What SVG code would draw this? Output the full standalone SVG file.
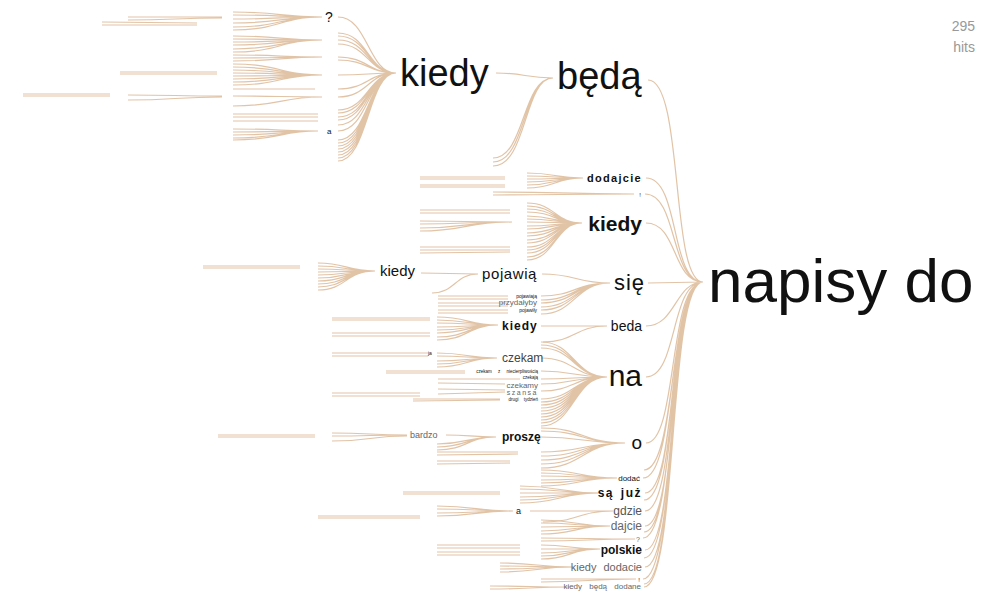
<svg xmlns="http://www.w3.org/2000/svg" width="995" height="592" viewBox="0 0 995 592">
<style>
.c{fill:none;stroke:#dcb896;stroke-width:1.2;stroke-opacity:0.85}
text{font-family:"Liberation Sans",Arial,sans-serif;fill:#111}
.g{fill:#666}
.b{font-weight:bold}
.e{text-anchor:end}
</style>
<rect width="995" height="592" fill="#fff"/>
<g id="connectors">
<path class="c" d="M648,80 C684,80 670,282 703,282 M646,178 C680,178 670,282 703,282 M645,194 C678,194 670,282 703,282 M646,223 C678,223 672,282 703,282 M648,283 L703,282 M646,326 C676,326 675,282 703,282 M646,377 C678,377 670,282 703,282 M646,443 C678,443 668,282 703,282 M643,478 C677,478 668,282 703,282 M645,493 C678,493 668,282 703,282 M645,511 C678,511 668,282 703,282 M645,526 C678,526 668,282 703,282 M643,538 C677,538 668,282 703,282 M645,550 C678,550 668,282 703,282 M645,567 C678,567 668,282 703,282 M643,579 C677,579 668,282 703,282 M644,587 C678,587 668,282 703,282 M644,470 C677,470 669,282 703,282 M644,500 C678,500 667,282 703,282 M644,532 C678,532 667,282 703,282 M644,558 C678,558 667,282 703,282 M644,584 C678,584 667,282 703,282"/>
<path class="c" d="M496,73 C525,73 525,78 553,78 M493,158 C525,158 522,78 553,78 M493,162 C526,162 523,78 553,78 M493,166 C527,166 524,78 553,78"/>
<path class="c" d="M338,17 C368,17 368,73 396,73 M338,33 C368,33 368,73 396,73 M338,36 C368,36 368,73 396,73 M338,40 C368,40 368,73 396,73 M338,44 C368,44 368,73 396,73 M338,57 C368,57 368,73 396,73 M338,60 C368,60 368,73 396,73 M338,75 C368,75 368,73 396,73 M338,89 C368,89 368,73 396,73 M338,97 C368,97 368,73 396,73 M338,110 C368,110 368,73 396,73 M338,113 C368,113 368,73 396,73 M338,117 C368,117 368,73 396,73 M338,120 C368,120 368,73 396,73 M338,125 C368,125 368,73 396,73 M338,131 C368,131 368,73 396,73 M338,140 C368,140 368,73 396,73 M338,143 C368,143 368,73 396,73 M338,146 C368,146 368,73 396,73 M338,149 C368,149 368,73 396,73 M338,152 C368,152 368,73 396,73 M338,155 C368,155 368,73 396,73 M338,158 C368,158 368,73 396,73 M338,161 C368,161 368,73 396,73"/>
<path class="c" d="M233,12 C280,12 280,17 322,17 M233,15 C280,15 280,17 322,17 M233,19 C280,19 280,17 322,17 M233,23 C280,23 280,17 322,17 M233,27 C280,27 280,17 322,17 M233,30 C280,30 280,17 322,17 M233,36 C280,36 280,40 322,40 M233,39 C280,39 280,40 322,40 M233,42 C280,42 280,40 322,40 M233,45 C280,45 280,40 322,40 M233,49 C280,49 280,40 322,40 M233,52 C280,52 280,40 322,40 M233,55 C280,55 280,57 322,57 M233,58 C280,58 280,57 322,57 M233,61 C280,61 280,57 322,57 M233,64 C280,64 280,75 322,75 M233,67 C280,67 280,75 322,75 M233,70 C280,70 280,75 322,75 M233,73 C280,73 280,75 322,75 M233,76 C280,76 280,75 322,75 M233,79 C280,79 280,75 322,75 M233,82 C280,82 280,75 322,75 M233,85 C280,85 280,75 322,75 M233,89 L315,89 M233,96 C280,96 280,97 322,97 M233,106 C280,106 280,97 322,97 M233,114 L318,114 M233,117 L318,117 M233,121 L318,121 M233,129 C280,129 280,131 318,131 M233,132 C280,132 280,131 318,131 M233,135 C280,135 280,131 318,131 M233,138 C280,138 280,131 318,131 M233,140 C280,140 280,131 318,131"/>
<path class="c" d="M128,17 C175,17 175,17 222,17 M128,20 C175,20 175,18 222,18 M102,22 L197,23 M102,25 L197,25 M120,72 L217,72 M120,74 L217,74 M23,94 L110,94 M23,96 L110,96 M128,95 C175,95 175,96 222,96 M128,100 C175,100 175,97 222,97"/>
<path class="c" d="M527,173 C555,173 555,178 583,178 M527,176 C555,176 555,178 583,178 M527,179 C555,179 555,178 583,178 M527,182 C555,182 555,178 583,178 M527,185 C555,185 555,178 583,178 M527,188 C555,188 555,178 583,178 M420,177 L505,177 M420,179 L505,179 M420,185 L505,185 M420,187 L505,187 M493,192 C560,192 560,194 634,194 M493,195 C560,195 560,194 634,194"/>
<path class="c" d="M527,203 C555,203 555,223 582,223 M527,206 C555,206 555,223 582,223 M527,209 C555,209 555,223 582,223 M527,212 C555,212 555,223 582,223 M527,216 C555,216 555,223 582,223 M527,219 C555,219 555,223 582,223 M527,222 C555,222 555,223 582,223 M527,226 C555,226 555,223 582,223 M527,229 C555,229 555,223 582,223 M527,233 C555,233 555,223 582,223 M527,236 C555,236 555,223 582,223 M527,240 C555,240 555,223 582,223 M527,243 C555,243 555,223 582,223 M527,247 C555,247 555,223 582,223 M527,250 C555,250 555,223 582,223 M527,253 C555,253 555,223 582,223 M527,257 C555,257 555,223 582,223 M527,260 C555,260 555,223 582,223 M420,210 L510,210 M420,213 L510,213 M420,221 C465,221 465,222 512,222 M420,224 C465,224 465,222 512,222 M420,228 C465,228 465,222 512,222 M420,231 C465,231 465,222 512,222 M420,247 L510,247 M420,250 L510,250 M420,253 L510,252"/>
<path class="c" d="M318,263 C346,263 346,271 375,271 M318,266 C346,266 346,271 375,271 M318,269 C346,269 346,271 375,271 M318,272 C346,272 346,271 375,271 M318,275 C346,275 346,271 375,271 M318,278 C346,278 346,271 375,271 M318,281 C346,281 346,271 375,271 M318,284 C346,284 346,271 375,271 M318,287 C346,287 346,271 375,271 M318,290 C346,290 346,271 375,271 M203,266 L300,266 M203,268 L300,268"/>
<path class="c" d="M421,273 L478,274 M432,293 C455,293 455,274 478,274 M542,274 C576,274 576,283 610,283 M541,296 C575,296 575,283 610,283 M541,300 C575,300 575,283 610,283 M541,303 C575,303 575,283 610,283 M541,307 C575,307 575,283 610,283 M541,310 C575,310 575,283 610,283 M541,314 C575,314 575,283 610,283 M438,296 L508,296 M438,299 L508,299 M438,303 L508,303 M438,306 L508,306 M438,310 L508,310 M438,313 L508,313"/>
<path class="c" d="M541,326 L607,326 M543,342 C575,342 575,326 607,326 M437,317 C468,317 468,325 498,325 M437,320 C468,320 468,325 498,325 M437,323 C468,323 468,325 498,325 M437,327 C468,327 468,325 498,325 M437,330 C468,330 468,325 498,325 M437,333 C468,333 468,325 498,325 M437,337 C468,337 468,325 498,325 M437,340 C468,340 468,325 498,325 M332,318 L430,318 M332,320 L430,320 M332,333 L430,333 M332,336 L430,336"/>
<path class="c" d="M541,342 C574,342 574,377 607,377 M541,345 C574,345 574,377 607,377 M541,348 C574,348 574,377 607,377 M541,358 C574,358 574,377 607,377 M541,371 C574,371 574,377 607,377 M541,379 C574,379 574,377 607,377 M541,384 C574,384 574,377 607,377 M541,391 C574,391 574,377 607,377 M541,399 C574,399 574,377 607,377 M541,402 C574,402 574,377 607,377 M541,405 C574,405 574,377 607,377 M541,408 C574,408 574,377 607,377 M541,411 C574,411 574,377 607,377 M541,414 C574,414 574,377 607,377 M541,417 C574,417 574,377 607,377 M541,420 C574,420 574,377 607,377 M541,423 C574,423 574,377 607,377 M541,426 C574,426 574,377 607,377"/>
<path class="c" d="M437,353 C467,353 467,358 497,358 M437,356 C467,356 467,358 497,358 M437,361 C467,361 467,358 497,358 M437,364 C467,364 467,358 497,358 M437,367 C467,367 467,358 497,358 M332,353 L428,353 M332,356 L428,356 M386,371 L465,371 M386,373 L465,373 M438,379 L520,379 M438,383 L505,384 M438,389 L505,390 M438,394 L505,392 M332,393 L420,393 M332,396 L420,396 M413,399 L500,399 M413,401 L500,400"/>
<path class="c" d="M541,437 C583,437 583,443 625,443 M541,428 C583,428 583,443 625,443 M541,431 C583,431 583,443 625,443 M541,452 C583,452 583,443 625,443 M541,456 C583,456 583,443 625,443 M541,460 C583,460 583,443 625,443 M541,464 C583,464 583,443 625,443 M541,468 C583,468 583,443 625,443 M446,435 C470,435 470,437 496,437 M437,444 C467,444 467,437 496,437 M437,447 C467,447 467,437 496,437 M437,450 C467,450 467,437 496,437 M332,433 C370,433 370,435 407,435 M332,436 C370,436 370,435 407,435 M332,441 C370,441 370,436 407,436 M218,435 L315,435 M218,437 L315,437 M437,452 L518,452 M437,455 L518,454 M437,461 L510,461 M437,464 L510,463"/>
<path class="c" d="M541,470 C579,470 579,478 617,478 M541,473 C579,473 579,478 617,478 M541,476 C579,476 579,478 617,478 M541,480 C579,480 579,478 617,478 M541,483 C579,483 579,478 617,478 M541,486 C579,486 579,478 617,478 M520,486 C560,486 560,493 600,493 M520,489 C560,489 560,493 600,493 M520,493 C560,493 560,493 600,493 M520,497 C560,497 560,493 600,493 M520,500 C560,500 560,493 600,493 M520,503 C560,503 560,493 600,493 M403,492 L500,492 M403,494 L500,494"/>
<path class="c" d="M530,511 L613,511 M543,522 C578,522 578,511 613,511 M437,506 C476,506 476,511 513,511 M437,509 C476,509 476,511 513,511 M437,513 C476,513 476,511 513,511 M437,516 C476,516 476,511 513,511 M318,516 L420,516 M318,518 L420,518"/>
<path class="c" d="M541,520 C575,520 575,526 610,526 M541,523 C575,523 575,526 610,526 M541,527 C575,527 575,526 610,526 M541,531 C575,531 575,526 610,526 M541,534 C575,534 575,526 610,526 M541,538 C588,538 588,539 635,539 M541,541 C588,541 588,539 635,539 M541,545 C570,545 570,549 600,549 M541,549 C570,549 570,549 600,549 M541,553 C570,553 570,549 600,549 M541,556 C570,556 570,549 600,549 M541,559 C570,559 570,549 600,549 M437,545 L520,545 M437,548 L520,548 M437,552 L520,552 M437,555 L520,555 M500,563 C537,563 537,567 574,567 M500,566 C537,566 537,567 574,567 M500,569 C537,569 537,567 574,567 M500,572 C537,572 537,567 574,567 M541,579 C588,579 588,579 636,579 M541,582 C588,582 588,579 636,579 M490,586 C530,586 530,587 570,587 M490,589 C530,589 530,587 570,587"/>
</g>
<g id="hits"><text x="975" y="31" class="e" style="fill:#999;font-size:14px">295</text><text x="975" y="52" class="e" style="fill:#999;font-size:14px">hits</text></g>
<g id="root"><text x="708" y="302" style="font-size:62px">napisy do</text></g>
<g id="n-beda-top"><text x="557" y="89" style="font-size:38px">będą</text></g>
<g id="n-kiedy-top"><text x="400" y="86" style="font-size:38px">kiedy</text></g>
<g id="n-q1"><text x="325" y="22" style="font-size:14px">?</text></g>
<g id="n-a1"><text x="327" y="134" style="font-size:8px">a</text></g>
<g id="n-dodajcie"><text x="642" y="182" class="e b" style="font-size:11px;letter-spacing:1.3px">dodajcie</text></g>
<g id="n-excl1"><text x="641" y="197" class="e" style="font-size:6px">!</text></g>
<g id="n-kiedy-b"><text x="642" y="231" class="e b" style="font-size:21px">kiedy</text></g>
<g id="n-sie"><text x="645" y="290" class="e" style="font-size:22px;letter-spacing:1px">się</text></g>
<g id="n-beda"><text x="642" y="331" class="e" style="font-size:14px">beda</text></g>
<g id="n-na"><text x="642" y="386" class="e" style="font-size:30px">na</text></g>
<g id="n-o"><text x="642" y="449" class="e" style="font-size:19px">o</text></g>
<g id="n-dodac"><text x="640" y="481" class="e" style="font-size:8px">dodać</text></g>
<g id="n-sajuz"><text x="642" y="497" class="e b" style="font-size:12px;letter-spacing:1.5px;word-spacing:2px">są już</text></g>
<g id="n-gdzie"><text x="642" y="515" class="e" style="font-size:12px;fill:#555">gdzie</text></g>
<g id="n-dajcie"><text x="642" y="530" class="e g" style="font-size:12px">dajcie</text></g>
<g id="n-q2"><text x="640" y="542" class="e g" style="font-size:7px">?</text></g>
<g id="n-polskie"><text x="642" y="554" class="e b" style="font-size:12px">polskie</text></g>
<g id="n-kiedydodacie"><text x="642" y="571" class="e g" style="font-size:11px;word-spacing:4px">kiedy dodacie</text></g>
<g id="n-excl2"><text x="640" y="582" class="e" style="font-size:6px">!</text></g>
<g id="n-kbd"><text x="641" y="589" class="e g" style="font-size:8px;word-spacing:5px">kiedy będą dodane</text></g>
<g id="n-kiedy-mid"><text x="380" y="276" style="font-size:15px">kiedy</text></g>
<g id="n-pojawia"><text x="482" y="279" style="font-size:15px;letter-spacing:0.6px">pojawią</text></g>
<g id="n-pojawiaja"><text x="537" y="298" class="e" style="font-size:5px">pojawiają</text></g>
<g id="n-przydalyby"><text x="537" y="305" class="e g" style="font-size:8px">przydałyby</text></g>
<g id="n-pojawily"><text x="537" y="312" class="e" style="font-size:5px">pojawiły</text></g>
<g id="n-kiedy-s"><text x="502" y="330" class="b" style="font-size:12px;letter-spacing:1px">kiedy</text></g>
<g id="n-ja"><text x="428" y="355" style="font-size:5px">ja</text></g>
<g id="n-czekam"><text x="502" y="362" style="font-size:12px;fill:#444">czekam</text></g>
<g id="n-czekamz"><text x="538" y="373" class="e" style="font-size:4.5px;word-spacing:5px">czekam z niecierpliwością</text></g>
<g id="n-czekaja"><text x="538" y="379" class="e" style="font-size:4.5px">czekają</text></g>
<g id="n-czekamy"><text x="538" y="388" class="e g" style="font-size:8px">czekamy</text></g>
<g id="n-szansa"><text x="538" y="395" class="e g" style="font-size:7px;letter-spacing:1.5px">szansa</text></g>
<g id="n-drugi"><text x="538" y="401" class="e" style="font-size:4.5px;word-spacing:4px">drugi tydzień</text></g>
<g id="n-prosze"><text x="502" y="441" class="b" style="font-size:12px">proszę</text></g>
<g id="n-bardzo"><text x="410" y="438" class="g" style="font-size:9px">bardzo</text></g>
<g id="n-a2"><text x="516" y="514" style="font-size:9px">a</text></g>
</svg>
